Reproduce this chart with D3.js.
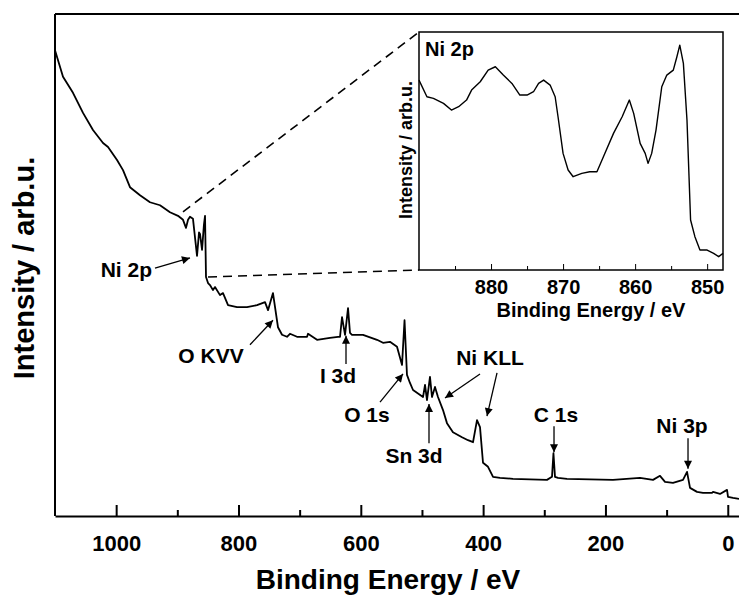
<!DOCTYPE html>
<html>
<head>
<meta charset="utf-8">
<script src="https://cdn.jsdelivr.net/npm/d3@7"></script>
<style>
  body { margin: 0; background: #fff; }
  svg { display: block; }
  text { font-family: "Liberation Sans", Arial, sans-serif; font-weight: bold; fill: #000; }
</style>
</head>
<body>
<svg id="chart" width="739" height="595"></svg>
<script>
// XPS survey spectrum: binding energy (eV) and intensity (arb.u.)
const surveyEnergy = [
  1100, 1086.9, 1070.6, 1054.2, 1037.9, 1021.5, 1013.3, 998.6, 988.8, 977.4,
  961.0, 944.7, 928.3, 912.0, 898.9, 890.7, 885.8, 882.5, 879.3, 874.4,
  867.8, 864.5, 862.9, 859.6, 856.5, 854.7, 853.1, 849.8, 846.6, 841.7,
  838.4, 830.2, 825.3, 817.1, 802.4, 786.1, 769.7, 756.6, 751.7, 743.6,
  735.4, 728.8, 720.7, 715.8, 704.3, 687.9, 686.3, 671.6, 650.4, 637.3,
  634.0, 630.7, 625.8, 620.9, 617.7, 614.4, 596.4, 573.5, 563.7, 552.3,
  540.8, 532.6, 528.5, 524.5, 519.6, 514.6, 498.3, 495.0, 491.8, 486.9,
  483.6, 478.7, 473.8, 465.6, 459.1, 449.3, 434.5, 424.7, 416.5, 410.0,
  405.1, 400.2, 392.0, 383.8, 372.4, 351.1, 295.6, 287.4, 285.0, 282.5,
  277.6, 262.9, 187.7, 143.5, 122.2, 110.8, 102.6, 89.6, 73.2, 66.6,
  61.7, 50.3, 40.5, 25.8, 24.1, 12.7, 1.2, -0.4, -8.6, -18.4
];
const surveyIntensity = [
  92.8, 87.5, 84.3, 80.3, 76.9, 74.3, 73.5, 70.9, 68.9, 65.5,
  63.9, 62.5, 61.9, 60.5, 59.8, 59.0, 57.4, 59.0, 59.6, 59.2,
  51.8, 56.5, 56.2, 53.0, 58.0, 59.8, 47.6, 46.4, 46.0, 45.0,
  45.6, 44.0, 44.4, 42.0, 41.6, 41.6, 42.0, 42.6, 41.0, 44.4,
  37.6, 36.1, 35.7, 36.3, 35.7, 35.7, 36.3, 35.1, 35.5, 35.7,
  35.7, 39.6, 36.1, 41.4, 36.5, 36.1, 36.1, 35.1, 34.5, 34.7,
  33.7, 30.1, 39.0, 28.1, 26.5, 25.1, 23.7, 26.1, 23.1, 27.7,
  23.7, 25.7, 23.7, 21.1, 18.5, 16.7, 15.7, 15.1, 14.7, 19.1,
  17.7, 10.6, 9.8, 7.8, 7.6, 7.4, 7.2, 7.8, 12.5, 7.8,
  7.6, 7.4, 7.2, 7.6, 7.2, 8.0, 6.8, 6.6, 7.2, 8.8,
  5.6, 4.8, 4.6, 4.6, 4.8, 4.4, 5.2, 3.8, 3.6, 3.4
];

// Ni 2p high-resolution region
const detailEnergy = [
  890.0, 888.9, 888.0, 886.6, 885.5, 884.5, 883.4, 882.7, 881.5, 880.4,
  879.4, 878.3, 877.1, 876.0, 875.0, 874.1, 873.4, 872.7, 871.8, 871.1,
  870.7, 870.0, 869.3, 868.6, 867.4, 866.3, 865.3, 864.4, 863.0, 861.8,
  860.8, 860.2, 859.3, 858.6, 858.2, 857.7, 857.1, 856.3, 855.6, 854.7,
  854.2, 853.8, 853.3, 852.8, 852.3, 851.7, 851.0, 850.0, 849.1, 848.4, 847.8
];
const detailIntensity = [
  79.8, 72.8, 72.1, 70.0, 67.2, 68.6, 71.4, 75.6, 79.1, 84.0,
  85.4, 81.9, 78.4, 73.5, 73.5, 74.9, 78.4, 79.8, 77.7, 72.8,
  64.4, 49.0, 42.0, 39.2, 40.6, 41.3, 41.3, 47.6, 57.4, 64.4,
  71.4, 65.8, 53.2, 49.0, 44.8, 49.0, 58.8, 77.0, 81.9, 84.0,
  89.6, 94.5, 86.8, 63.0, 21.0, 14.0, 8.4, 8.4, 7.0, 5.6, 7.0
];

const mainMajorTicks = [1000, 800, 600, 400, 200, 0];
const mainMinorTicks = [900, 700, 500, 300, 100];
const insetMajorTicks = [880, 870, 860, 850];
const insetMinorTicks = [885, 875, 865, 855];

// peak assignments: label anchor and arrows (tail -> tip) in data units
const peakLabels = [
  { text: "Ni 2p", at: [941.4, 47.6], anchor: "end",
    arrows: [[[936.5, 49.4], [879.3, 51.4]]] },
  { text: "O KVV", at: [844.9, 30.5], anchor: "middle",
    arrows: [[[781.2, 34.1], [743.6, 39.0]]] },
  { text: "I 3d", at: [637.3, 26.5], anchor: "middle",
    arrows: [[[624.2, 30.3], [624.2, 35.9]]] },
  { text: "O 1s", at: [589.9, 18.7], anchor: "middle",
    arrows: [[[568.6, 22.7], [531.0, 28.3]]] },
  { text: "Sn 3d", at: [513.0, 10.6], anchor: "middle",
    arrows: [[[488.5, 14.5], [488.5, 22.3]]] },
  { text: "Ni KLL", at: [388.7, 30.1], anchor: "middle",
    arrows: [[[405.1, 28.3], [462.3, 23.5]], [[377.3, 28.5], [393.7, 19.9]]] },
  { text: "C 1s", at: [280.8, 18.7], anchor: "middle",
    arrows: [[[284.1, 17.9], [284.1, 12.7]]] },
  { text: "Ni 3p", at: [74.8, 16.5], anchor: "middle",
    arrows: [[[65.0, 15.5], [65.0, 9.4]]] }
];

const svg = d3.select("#chart");
svg.append("rect").attr("width", 739).attr("height", 595).attr("fill", "#fff");

svg.append("defs").append("marker")
  .attr("id", "head")
  .attr("viewBox", "0 0 10 10")
  .attr("refX", 10).attr("refY", 5)
  .attr("markerWidth", 10).attr("markerHeight", 8)
  .attr("markerUnits", "userSpaceOnUse")
  .attr("orient", "auto")
  .append("path").attr("d", "M0,0 L10,5 L0,10 Z").attr("fill", "#000");

// ---- main survey panel ----
const x = d3.scaleLinear().domain([1100, -20]).range([55, 740]);
const y = d3.scaleLinear().domain([0, 100]).range([516, 14]);

const survey = surveyEnergy.map((e, i) => [e, surveyIntensity[i]]);
const line = d3.line().x(d => x(d[0])).y(d => y(d[1]));

svg.append("path").datum(survey)
  .attr("d", line)
  .attr("fill", "none").attr("stroke", "#000")
  .attr("stroke-width", 1.8).attr("stroke-linejoin", "round");

// frame: top and left edges
svg.append("line").attr("x1", x.range()[0]).attr("x2", x.range()[1])
  .attr("y1", y.range()[1]).attr("y2", y.range()[1])
  .attr("stroke", "#000").attr("stroke-width", 2);
svg.append("line").attr("x1", x.range()[0]).attr("x2", x.range()[0])
  .attr("y1", y.range()[0]).attr("y2", y.range()[1])
  .attr("stroke", "#000").attr("stroke-width", 2);

const xAxis = svg.append("g").attr("transform", `translate(0,${y.range()[0]})`)
  .call(d3.axisBottom(x).tickValues(mainMajorTicks).tickSizeInner(-11).tickSizeOuter(0).tickPadding(19)
    .tickFormat(d3.format("d")));
xAxis.select(".domain").attr("stroke-width", 2);
xAxis.selectAll(".tick line").attr("stroke-width", 2);
xAxis.selectAll(".tick text").style("font-size", "22px");

const xMinor = svg.append("g").attr("transform", `translate(0,${y.range()[0]})`)
  .call(d3.axisBottom(x).tickValues(mainMinorTicks).tickSizeInner(-6).tickSizeOuter(0).tickFormat(""));
xMinor.select(".domain").remove();
xMinor.selectAll(".tick line").attr("stroke-width", 2);

svg.append("text").attr("x", 388).attr("y", 589).attr("text-anchor", "middle")
  .style("font-size", "28px").text("Binding Energy / eV");
svg.append("text").attr("transform", "translate(34,268) rotate(-90)").attr("text-anchor", "middle")
  .style("font-size", "29px").text("Intensity / arb.u.");

// peak labels and arrows
const ann = svg.append("g");
peakLabels.forEach(p => {
  ann.append("text").attr("x", x(p.at[0])).attr("y", y(p.at[1]))
    .attr("text-anchor", p.anchor).style("font-size", "21px").text(p.text);
  p.arrows.forEach(a => {
    ann.append("line")
      .attr("x1", x(a[0][0])).attr("y1", y(a[0][1]))
      .attr("x2", x(a[1][0])).attr("y2", y(a[1][1]))
      .attr("stroke", "#000").attr("stroke-width", 1.3)
      .attr("marker-end", "url(#head)");
  });
});

// ---- Ni 2p inset ----
const ix = d3.scaleLinear().domain([890, 847.8]).range([419, 723]);
const iy = d3.scaleLinear().domain([0, 100]).range([270, 32]);

// dashed guides from the survey Ni 2p region to the inset corners
const zoomFrom = [[890.7, 60.6], [849.8, 47.6]];
const zoomTo = [[ix.range()[0], iy.range()[1]], [ix.range()[0], iy.range()[0]]];
zoomFrom.forEach((p, i) => {
  svg.append("line")
    .attr("x1", x(p[0])).attr("y1", y(p[1]))
    .attr("x2", zoomTo[i][0]).attr("y2", zoomTo[i][1])
    .attr("stroke", "#000").attr("stroke-width", 1.6)
    .attr("stroke-dasharray", "9,6");
});

svg.append("rect")
  .attr("x", ix.range()[0]).attr("y", iy.range()[1])
  .attr("width", ix.range()[1] - ix.range()[0]).attr("height", iy.range()[0] - iy.range()[1])
  .attr("fill", "#fff").attr("stroke", "#000").attr("stroke-width", 1.5);

const detail = detailEnergy.map((e, i) => [e, detailIntensity[i]]);
svg.append("path").datum(detail)
  .attr("d", d3.line().x(d => ix(d[0])).y(d => iy(d[1])))
  .attr("fill", "none").attr("stroke", "#000")
  .attr("stroke-width", 1.4).attr("stroke-linejoin", "round");

const ixAxis = svg.append("g").attr("transform", `translate(0,${iy.range()[0]})`)
  .call(d3.axisBottom(ix).tickValues(insetMajorTicks).tickSizeInner(-6).tickSizeOuter(0).tickPadding(10)
    .tickFormat(d3.format("d")));
ixAxis.select(".domain").remove();
ixAxis.selectAll(".tick text").style("font-size", "20px");
const ixMinor = svg.append("g").attr("transform", `translate(0,${iy.range()[0]})`)
  .call(d3.axisBottom(ix).tickValues(insetMinorTicks).tickSizeInner(-4).tickSizeOuter(0).tickFormat(""));
ixMinor.select(".domain").remove();

svg.append("text").attr("x", 591).attr("y", 317).attr("text-anchor", "middle")
  .style("font-size", "20px").text("Binding Energy / eV");
svg.append("text").attr("transform", "translate(412,150) rotate(-90)").attr("text-anchor", "middle")
  .style("font-size", "18px").text("Intensity / arb.u.");
svg.append("text").attr("x", ix.range()[0] + 6).attr("y", iy.range()[1] + 24)
  .style("font-size", "20px").text("Ni 2p");
</script>
</body>
</html>
